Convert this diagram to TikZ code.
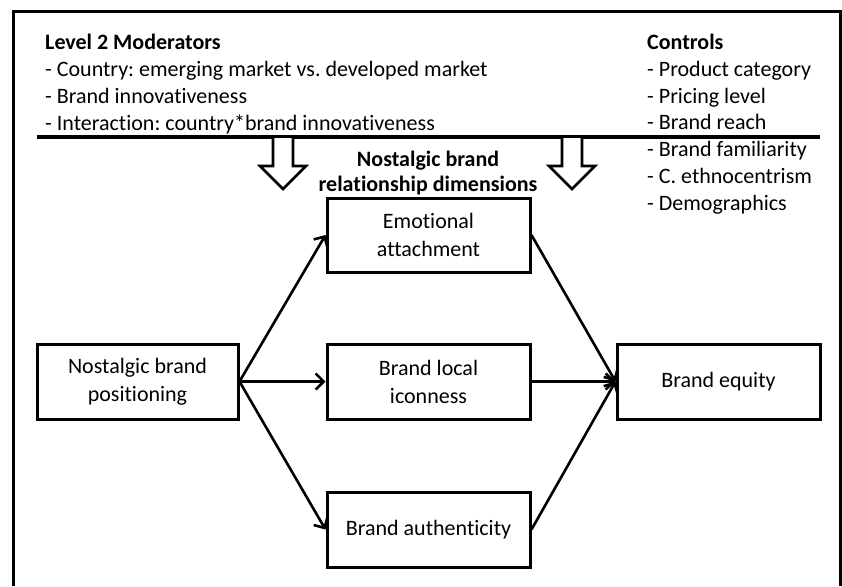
\documentclass[tikz,border=0pt]{standalone}
\usepackage{fontspec}
\setmainfont[Ligatures=NoCommon]{Carlito}
\usetikzlibrary{arrows.meta}
\frenchspacing
\tikzset{
  txt/.style={inner sep=0pt, font=\fontsize{22}{26}\selectfont},
  btxt/.style={inner sep=0pt, font=\fontsize{22}{26}\selectfont\bfseries},
  box/.style={draw, line width=3pt, minimum width=#1, minimum height=75pt, align=center, inner sep=0pt,
     font=\fontsize{22}{28}\selectfont},
  conn/.style={line width=2.6pt, -{Straight Barb[length=8pt,width=16pt,line width=2.6pt]}},
  hollow/.style={draw, line width=2.6pt, fill=white, line join=miter}
}
\begin{document}
\begin{tikzpicture}[x=1pt,y=-1pt]
\useasboundingbox (0,0) rectangle (842,586);
% frame
\draw[line width=3pt] (13,586) -- (13,12) -- (840,12) -- (840,586);
% separator
\draw[line width=3.5pt] (37,137) -- (820,137);
% moderators
\node[btxt, anchor=base west] (m0) at (45,49) {Level 2 Moderators};
\node[txt, anchor=base west] (m1) at (45,76) {- Country: emerging market vs. developed market};
\node[txt, anchor=base west] (m2) at (45,103) {- Brand innovativeness};
\node[txt, anchor=base west] (m3) at (45,130) {- Interaction: country*brand innovativeness};
% controls
\node[btxt, anchor=base west] (c0) at (647,49) {Controls};
\node[txt, anchor=base west] (c1) at (647,76) {- Product category};
\node[txt, anchor=base west] (c2) at (647,103) {- Pricing level};
\node[txt, anchor=base west] (c3) at (647,129) {- Brand reach};
\node[txt, anchor=base west] (c4) at (647,156) {- Brand familiarity};
\node[txt, anchor=base west] (c5) at (647,183) {- C. ethnocentrism};
\node[txt, anchor=base west] (c6) at (647,210) {- Demographics};
% title
\node[btxt, anchor=base] (t1) at (428,166) {Nostalgic brand};
\node[btxt, anchor=base] (t2) at (428,191) {relationship dimensions};
% hollow arrows
\foreach \cx/\nm in {283/ha, 572/hb}{
  \draw[hollow] (\cx-10,138) -- (\cx-10,166) -- (\cx-23,166) -- (\cx,189) -- (\cx+23,166) -- (\cx+10,166) -- (\cx+10,138);
}
% boxes
\node[box=201pt] (pos) at (137.5,381.5) {Nostalgic brand\\positioning};
\node[box=203pt, minimum height=74pt] (emo) at (428.5,235) {Emotional\\attachment};
\node[box=203pt] (ico) at (428.5,381.5) {Brand local\\iconness};
\node[box=203pt] (aut) at (428.5,529.5) {Brand authenticity};
\node[box=203pt] (eq) at (718.5,381.5) {Brand equity};
% connectors
\draw[conn] (pos.east) -- (emo.west);
\draw[conn] (pos.east) -- (ico.west);
\draw[conn] (pos.east) -- (aut.west);
\draw[conn] (emo.east) -- (eq.west);
\draw[conn] (ico.east) -- (eq.west);
\draw[conn] (aut.east) -- (eq.west);
\end{tikzpicture}
\end{document}
